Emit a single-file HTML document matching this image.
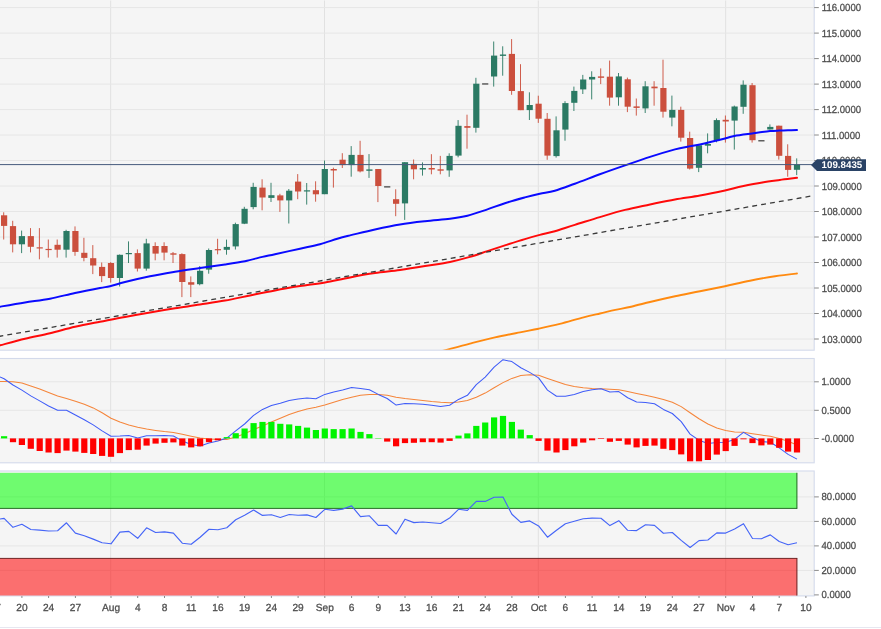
<!DOCTYPE html>
<html lang="en"><head><meta charset="utf-8"><title>Chart</title>
<style>html,body{margin:0;padding:0;background:#fff;}body{width:881px;height:629px;overflow:hidden;}svg{display:block;}</style>
</head><body>
<svg width="881" height="629" viewBox="0 0 881 629" font-family="'Liberation Sans', sans-serif" text-rendering="geometricPrecision">
<rect width="881" height="629" fill="#fff"/>
<defs><clipPath id="c1"><rect x="0" y="0" width="813.7" height="349.7"/></clipPath><clipPath id="c2"><rect x="0" y="359" width="813.7" height="103.3"/></clipPath><clipPath id="c3"><rect x="0" y="471.5" width="813.7" height="123.9"/></clipPath></defs>
<rect x="-2" y="-2" width="816.2" height="352.2" fill="#f5f5f5" stroke="#d3daeb" stroke-width="1.1"/>
<rect x="-2" y="358.5" width="816.2" height="104.3" fill="#f5f5f5" stroke="#d3daeb" stroke-width="1.1"/>
<rect x="-2" y="471.0" width="816.2" height="124.9" fill="#f5f5f5" stroke="#d3daeb" stroke-width="1.1"/>
<line x1="110.7" y1="0.5" x2="110.7" y2="349.7" stroke="#e1e1e1" stroke-width="1"/>
<line x1="324.5" y1="0.5" x2="324.5" y2="349.7" stroke="#e1e1e1" stroke-width="1"/>
<line x1="538.3" y1="0.5" x2="538.3" y2="349.7" stroke="#e1e1e1" stroke-width="1"/>
<line x1="725.7" y1="0.5" x2="725.7" y2="349.7" stroke="#e1e1e1" stroke-width="1"/>
<line x1="110.7" y1="359.0" x2="110.7" y2="462.3" stroke="#e1e1e1" stroke-width="1"/>
<line x1="324.5" y1="359.0" x2="324.5" y2="462.3" stroke="#e1e1e1" stroke-width="1"/>
<line x1="538.3" y1="359.0" x2="538.3" y2="462.3" stroke="#e1e1e1" stroke-width="1"/>
<line x1="725.7" y1="359.0" x2="725.7" y2="462.3" stroke="#e1e1e1" stroke-width="1"/>
<line x1="110.7" y1="471.5" x2="110.7" y2="595.4" stroke="#e1e1e1" stroke-width="1"/>
<line x1="324.5" y1="471.5" x2="324.5" y2="595.4" stroke="#e1e1e1" stroke-width="1"/>
<line x1="538.3" y1="471.5" x2="538.3" y2="595.4" stroke="#e1e1e1" stroke-width="1"/>
<line x1="725.7" y1="471.5" x2="725.7" y2="595.4" stroke="#e1e1e1" stroke-width="1"/>
<line x1="0" y1="339" x2="814.2" y2="339" stroke="#e6e6e6" stroke-width="1"/>
<line x1="814.2" y1="339" x2="818.8000000000001" y2="339" stroke="#8a8a8a" stroke-width="1"/>
<text transform="translate(821.8,342.5) scale(0.93,1)" font-size="10.3" fill="#4f4f4f" stroke="#4f4f4f" stroke-width="0.3" text-anchor="start">103.0000</text>
<line x1="0" y1="313.5" x2="814.2" y2="313.5" stroke="#e6e6e6" stroke-width="1"/>
<line x1="814.2" y1="313.5" x2="818.8000000000001" y2="313.5" stroke="#8a8a8a" stroke-width="1"/>
<text transform="translate(821.8,317) scale(0.93,1)" font-size="10.3" fill="#4f4f4f" stroke="#4f4f4f" stroke-width="0.3" text-anchor="start">104.0000</text>
<line x1="0" y1="288" x2="814.2" y2="288" stroke="#e6e6e6" stroke-width="1"/>
<line x1="814.2" y1="288" x2="818.8000000000001" y2="288" stroke="#8a8a8a" stroke-width="1"/>
<text transform="translate(821.8,291.5) scale(0.93,1)" font-size="10.3" fill="#4f4f4f" stroke="#4f4f4f" stroke-width="0.3" text-anchor="start">105.0000</text>
<line x1="0" y1="262.5" x2="814.2" y2="262.5" stroke="#e6e6e6" stroke-width="1"/>
<line x1="814.2" y1="262.5" x2="818.8000000000001" y2="262.5" stroke="#8a8a8a" stroke-width="1"/>
<text transform="translate(821.8,266) scale(0.93,1)" font-size="10.3" fill="#4f4f4f" stroke="#4f4f4f" stroke-width="0.3" text-anchor="start">106.0000</text>
<line x1="0" y1="237" x2="814.2" y2="237" stroke="#e6e6e6" stroke-width="1"/>
<line x1="814.2" y1="237" x2="818.8000000000001" y2="237" stroke="#8a8a8a" stroke-width="1"/>
<text transform="translate(821.8,240.5) scale(0.93,1)" font-size="10.3" fill="#4f4f4f" stroke="#4f4f4f" stroke-width="0.3" text-anchor="start">107.0000</text>
<line x1="0" y1="211.5" x2="814.2" y2="211.5" stroke="#e6e6e6" stroke-width="1"/>
<line x1="814.2" y1="211.5" x2="818.8000000000001" y2="211.5" stroke="#8a8a8a" stroke-width="1"/>
<text transform="translate(821.8,215) scale(0.93,1)" font-size="10.3" fill="#4f4f4f" stroke="#4f4f4f" stroke-width="0.3" text-anchor="start">108.0000</text>
<line x1="0" y1="186" x2="814.2" y2="186" stroke="#e6e6e6" stroke-width="1"/>
<line x1="814.2" y1="186" x2="818.8000000000001" y2="186" stroke="#8a8a8a" stroke-width="1"/>
<text transform="translate(821.8,189.5) scale(0.93,1)" font-size="10.3" fill="#4f4f4f" stroke="#4f4f4f" stroke-width="0.3" text-anchor="start">109.0000</text>
<line x1="0" y1="160.5" x2="814.2" y2="160.5" stroke="#e6e6e6" stroke-width="1"/>
<line x1="814.2" y1="160.5" x2="818.8000000000001" y2="160.5" stroke="#8a8a8a" stroke-width="1"/>
<text transform="translate(821.8,164) scale(0.93,1)" font-size="10.3" fill="#4f4f4f" stroke="#4f4f4f" stroke-width="0.3" text-anchor="start">110.0000</text>
<line x1="0" y1="135" x2="814.2" y2="135" stroke="#e6e6e6" stroke-width="1"/>
<line x1="814.2" y1="135" x2="818.8000000000001" y2="135" stroke="#8a8a8a" stroke-width="1"/>
<text transform="translate(821.8,138.5) scale(0.93,1)" font-size="10.3" fill="#4f4f4f" stroke="#4f4f4f" stroke-width="0.3" text-anchor="start">111.0000</text>
<line x1="0" y1="109.6" x2="814.2" y2="109.6" stroke="#e6e6e6" stroke-width="1"/>
<line x1="814.2" y1="109.6" x2="818.8000000000001" y2="109.6" stroke="#8a8a8a" stroke-width="1"/>
<text transform="translate(821.8,113.1) scale(0.93,1)" font-size="10.3" fill="#4f4f4f" stroke="#4f4f4f" stroke-width="0.3" text-anchor="start">112.0000</text>
<line x1="0" y1="84.1" x2="814.2" y2="84.1" stroke="#e6e6e6" stroke-width="1"/>
<line x1="814.2" y1="84.1" x2="818.8000000000001" y2="84.1" stroke="#8a8a8a" stroke-width="1"/>
<text transform="translate(821.8,87.6) scale(0.93,1)" font-size="10.3" fill="#4f4f4f" stroke="#4f4f4f" stroke-width="0.3" text-anchor="start">113.0000</text>
<line x1="0" y1="58.6" x2="814.2" y2="58.6" stroke="#e6e6e6" stroke-width="1"/>
<line x1="814.2" y1="58.6" x2="818.8000000000001" y2="58.6" stroke="#8a8a8a" stroke-width="1"/>
<text transform="translate(821.8,62.1) scale(0.93,1)" font-size="10.3" fill="#4f4f4f" stroke="#4f4f4f" stroke-width="0.3" text-anchor="start">114.0000</text>
<line x1="0" y1="33.1" x2="814.2" y2="33.1" stroke="#e6e6e6" stroke-width="1"/>
<line x1="814.2" y1="33.1" x2="818.8000000000001" y2="33.1" stroke="#8a8a8a" stroke-width="1"/>
<text transform="translate(821.8,36.6) scale(0.93,1)" font-size="10.3" fill="#4f4f4f" stroke="#4f4f4f" stroke-width="0.3" text-anchor="start">115.0000</text>
<line x1="0" y1="7.6" x2="814.2" y2="7.6" stroke="#e6e6e6" stroke-width="1"/>
<line x1="814.2" y1="7.6" x2="818.8000000000001" y2="7.6" stroke="#8a8a8a" stroke-width="1"/>
<text transform="translate(821.8,11.1) scale(0.93,1)" font-size="10.3" fill="#4f4f4f" stroke="#4f4f4f" stroke-width="0.3" text-anchor="start">116.0000</text>
<line x1="0" y1="381.8" x2="814.2" y2="381.8" stroke="#e6e6e6" stroke-width="1"/>
<line x1="814.2" y1="381.8" x2="818.8000000000001" y2="381.8" stroke="#8a8a8a" stroke-width="1"/>
<text transform="translate(821.5,385.3) scale(0.93,1)" font-size="10.3" fill="#4f4f4f" stroke="#4f4f4f" stroke-width="0.3" text-anchor="start">1.0000</text>
<line x1="0" y1="410.3" x2="814.2" y2="410.3" stroke="#e6e6e6" stroke-width="1"/>
<line x1="814.2" y1="410.3" x2="818.8000000000001" y2="410.3" stroke="#8a8a8a" stroke-width="1"/>
<text transform="translate(821.5,413.8) scale(0.93,1)" font-size="10.3" fill="#4f4f4f" stroke="#4f4f4f" stroke-width="0.3" text-anchor="start">0.5000</text>
<line x1="0" y1="438.5" x2="814.2" y2="438.5" stroke="#e6e6e6" stroke-width="1"/>
<line x1="814.2" y1="438.5" x2="818.8000000000001" y2="438.5" stroke="#8a8a8a" stroke-width="1"/>
<text transform="translate(821.5,442) scale(0.93,1)" font-size="10.3" fill="#4f4f4f" stroke="#4f4f4f" stroke-width="0.3" text-anchor="start">-0.0000</text>
<line x1="814.2" y1="594.9" x2="818.8000000000001" y2="594.9" stroke="#8a8a8a" stroke-width="1"/>
<text transform="translate(821.5,598.4) scale(0.93,1)" font-size="10.3" fill="#4f4f4f" stroke="#4f4f4f" stroke-width="0.3" text-anchor="start">0.0000</text>
<line x1="0" y1="570.4" x2="814.2" y2="570.4" stroke="#e6e6e6" stroke-width="1"/>
<line x1="814.2" y1="570.4" x2="818.8000000000001" y2="570.4" stroke="#8a8a8a" stroke-width="1"/>
<text transform="translate(821.5,573.9) scale(0.93,1)" font-size="10.3" fill="#4f4f4f" stroke="#4f4f4f" stroke-width="0.3" text-anchor="start">20.0000</text>
<line x1="0" y1="545.9" x2="814.2" y2="545.9" stroke="#e6e6e6" stroke-width="1"/>
<line x1="814.2" y1="545.9" x2="818.8000000000001" y2="545.9" stroke="#8a8a8a" stroke-width="1"/>
<text transform="translate(821.5,549.4) scale(0.93,1)" font-size="10.3" fill="#4f4f4f" stroke="#4f4f4f" stroke-width="0.3" text-anchor="start">40.0000</text>
<line x1="0" y1="521.4" x2="814.2" y2="521.4" stroke="#e6e6e6" stroke-width="1"/>
<line x1="814.2" y1="521.4" x2="818.8000000000001" y2="521.4" stroke="#8a8a8a" stroke-width="1"/>
<text transform="translate(821.5,524.9) scale(0.93,1)" font-size="10.3" fill="#4f4f4f" stroke="#4f4f4f" stroke-width="0.3" text-anchor="start">60.0000</text>
<line x1="0" y1="496.9" x2="814.2" y2="496.9" stroke="#e6e6e6" stroke-width="1"/>
<line x1="814.2" y1="496.9" x2="818.8000000000001" y2="496.9" stroke="#8a8a8a" stroke-width="1"/>
<text transform="translate(821.5,500.4) scale(0.93,1)" font-size="10.3" fill="#4f4f4f" stroke="#4f4f4f" stroke-width="0.3" text-anchor="start">80.0000</text>
<g clip-path="url(#c1)">
<line x1="3.7" y1="212.3" x2="3.7" y2="239.5" stroke="#cb4f3d" stroke-width="1" stroke-opacity="0.92"/>
<rect x="1" y="215.3" width="6.2" height="10.6" fill="#cb4f3d"/>
<line x1="12.7" y1="220.8" x2="12.7" y2="252.4" stroke="#cb4f3d" stroke-width="1" stroke-opacity="0.92"/>
<rect x="9.9" y="226.1" width="6.2" height="18.2" fill="#cb4f3d"/>
<line x1="21.6" y1="230.6" x2="21.6" y2="253.1" stroke="#2b7a64" stroke-width="1" stroke-opacity="0.92"/>
<rect x="18.8" y="236.1" width="6.2" height="8.2" fill="#2b7a64"/>
<line x1="30.5" y1="228.1" x2="30.5" y2="252.4" stroke="#cb4f3d" stroke-width="1" stroke-opacity="0.92"/>
<rect x="27.7" y="236.1" width="6.2" height="10.7" fill="#cb4f3d"/>
<line x1="39.4" y1="228.1" x2="39.4" y2="259.3" stroke="#cb4f3d" stroke-width="1" stroke-opacity="0.92"/>
<rect x="36.6" y="247.3" width="6.2" height="1.2" fill="#cb4f3d"/>
<line x1="48.3" y1="239.5" x2="48.3" y2="257.6" stroke="#cb4f3d" stroke-width="1" stroke-opacity="0.92"/>
<rect x="45.5" y="248.9" width="6.2" height="1.2" fill="#cb4f3d"/>
<line x1="57.2" y1="239.5" x2="57.2" y2="257.6" stroke="#cb4f3d" stroke-width="1" stroke-opacity="0.92"/>
<rect x="54.5" y="244.8" width="6.2" height="4.9" fill="#cb4f3d"/>
<line x1="66.1" y1="229.8" x2="66.1" y2="257.6" stroke="#2b7a64" stroke-width="1" stroke-opacity="0.92"/>
<rect x="63.4" y="231" width="6.2" height="18.7" fill="#2b7a64"/>
<line x1="75" y1="226.4" x2="75" y2="255.8" stroke="#cb4f3d" stroke-width="1" stroke-opacity="0.92"/>
<rect x="72.3" y="231" width="6.2" height="20.9" fill="#cb4f3d"/>
<line x1="83.9" y1="237.8" x2="83.9" y2="261.3" stroke="#cb4f3d" stroke-width="1" stroke-opacity="0.92"/>
<rect x="81.2" y="252.8" width="6.2" height="5.1" fill="#cb4f3d"/>
<line x1="92.8" y1="245.1" x2="92.8" y2="274.1" stroke="#cb4f3d" stroke-width="1" stroke-opacity="0.92"/>
<rect x="90.1" y="258.2" width="6.2" height="7.3" fill="#cb4f3d"/>
<line x1="101.7" y1="262.5" x2="101.7" y2="282.1" stroke="#cb4f3d" stroke-width="1" stroke-opacity="0.92"/>
<rect x="99" y="266.9" width="6.2" height="9.2" fill="#cb4f3d"/>
<line x1="110.7" y1="262.1" x2="110.7" y2="282.6" stroke="#cb4f3d" stroke-width="1" stroke-opacity="0.92"/>
<rect x="107.9" y="263" width="6.2" height="15" fill="#cb4f3d"/>
<line x1="119.6" y1="254.5" x2="119.6" y2="286.5" stroke="#2b7a64" stroke-width="1" stroke-opacity="0.92"/>
<rect x="116.8" y="254.8" width="6.2" height="23.2" fill="#2b7a64"/>
<line x1="128.5" y1="241.4" x2="128.5" y2="263" stroke="#2b7a64" stroke-width="1" stroke-opacity="0.92"/>
<rect x="125.7" y="253" width="6.2" height="1.2" fill="#2b7a64"/>
<line x1="137.4" y1="249.4" x2="137.4" y2="271.5" stroke="#cb4f3d" stroke-width="1" stroke-opacity="0.92"/>
<rect x="134.6" y="253.1" width="6.2" height="15.5" fill="#cb4f3d"/>
<line x1="146.3" y1="238.8" x2="146.3" y2="270.7" stroke="#2b7a64" stroke-width="1" stroke-opacity="0.92"/>
<rect x="143.5" y="243.4" width="6.2" height="25.2" fill="#2b7a64"/>
<line x1="155.2" y1="242.3" x2="155.2" y2="260.3" stroke="#cb4f3d" stroke-width="1" stroke-opacity="0.92"/>
<rect x="152.5" y="246" width="6.2" height="7.6" fill="#cb4f3d"/>
<line x1="164.1" y1="242.3" x2="164.1" y2="260.3" stroke="#cb4f3d" stroke-width="1" stroke-opacity="0.92"/>
<rect x="161.4" y="246" width="6.2" height="6.6" fill="#cb4f3d"/>
<line x1="173" y1="252" x2="173" y2="263" stroke="#cb4f3d" stroke-width="1" stroke-opacity="0.92"/>
<rect x="170.3" y="253.3" width="6.2" height="1.4" fill="#cb4f3d"/>
<line x1="181.9" y1="253.3" x2="181.9" y2="297.1" stroke="#cb4f3d" stroke-width="1" stroke-opacity="0.92"/>
<rect x="179.2" y="254.1" width="6.2" height="27.9" fill="#cb4f3d"/>
<line x1="190.8" y1="276.4" x2="190.8" y2="297.1" stroke="#cb4f3d" stroke-width="1" stroke-opacity="0.92"/>
<rect x="188.1" y="282.2" width="6.2" height="2.5" fill="#cb4f3d"/>
<line x1="199.7" y1="266.1" x2="199.7" y2="285.3" stroke="#2b7a64" stroke-width="1" stroke-opacity="0.92"/>
<rect x="197" y="270.8" width="6.2" height="13.4" fill="#2b7a64"/>
<line x1="208.7" y1="248.5" x2="208.7" y2="273.7" stroke="#2b7a64" stroke-width="1" stroke-opacity="0.92"/>
<rect x="205.9" y="250" width="6.2" height="19.6" fill="#2b7a64"/>
<line x1="217.6" y1="238.8" x2="217.6" y2="254.3" stroke="#cb4f3d" stroke-width="1" stroke-opacity="0.92"/>
<rect x="214.8" y="249.1" width="6.2" height="1.2" fill="#cb4f3d"/>
<line x1="226.5" y1="239.6" x2="226.5" y2="254.7" stroke="#2b7a64" stroke-width="1" stroke-opacity="0.92"/>
<rect x="223.7" y="246.9" width="6.2" height="2.9" fill="#2b7a64"/>
<line x1="235.4" y1="222.7" x2="235.4" y2="249.5" stroke="#2b7a64" stroke-width="1" stroke-opacity="0.92"/>
<rect x="232.6" y="224.1" width="6.2" height="22.3" fill="#2b7a64"/>
<line x1="244.3" y1="206.8" x2="244.3" y2="224.1" stroke="#2b7a64" stroke-width="1" stroke-opacity="0.92"/>
<rect x="241.5" y="208.8" width="6.2" height="14.9" fill="#2b7a64"/>
<line x1="253.2" y1="182.8" x2="253.2" y2="209.3" stroke="#2b7a64" stroke-width="1" stroke-opacity="0.92"/>
<rect x="250.5" y="186.9" width="6.2" height="20.2" fill="#2b7a64"/>
<line x1="262.1" y1="179.3" x2="262.1" y2="210.3" stroke="#cb4f3d" stroke-width="1" stroke-opacity="0.92"/>
<rect x="259.4" y="187.6" width="6.2" height="9.9" fill="#cb4f3d"/>
<line x1="271" y1="182.8" x2="271" y2="202" stroke="#2b7a64" stroke-width="1" stroke-opacity="0.92"/>
<rect x="268.3" y="195.2" width="6.2" height="2.7" fill="#2b7a64"/>
<line x1="279.9" y1="193.8" x2="279.9" y2="211.9" stroke="#cb4f3d" stroke-width="1" stroke-opacity="0.92"/>
<rect x="277.2" y="195.4" width="6.2" height="5" fill="#cb4f3d"/>
<line x1="288.8" y1="189" x2="288.8" y2="223.5" stroke="#2b7a64" stroke-width="1" stroke-opacity="0.92"/>
<rect x="286.1" y="190.7" width="6.2" height="9.7" fill="#2b7a64"/>
<line x1="297.7" y1="174.1" x2="297.7" y2="199.2" stroke="#cb4f3d" stroke-width="1" stroke-opacity="0.92"/>
<rect x="295" y="181.6" width="6.2" height="9.9" fill="#cb4f3d"/>
<line x1="306.7" y1="183" x2="306.7" y2="204.6" stroke="#2b7a64" stroke-width="1" stroke-opacity="0.92"/>
<rect x="303.9" y="190.3" width="6.2" height="1.2" fill="#2b7a64"/>
<line x1="315.6" y1="181.3" x2="315.6" y2="201.7" stroke="#cb4f3d" stroke-width="1" stroke-opacity="0.92"/>
<rect x="312.8" y="190.2" width="6.2" height="4.1" fill="#cb4f3d"/>
<line x1="324.5" y1="160.5" x2="324.5" y2="194.2" stroke="#2b7a64" stroke-width="1" stroke-opacity="0.92"/>
<rect x="321.7" y="169" width="6.2" height="25.2" fill="#2b7a64"/>
<line x1="333.4" y1="167.7" x2="333.4" y2="187.6" stroke="#cb4f3d" stroke-width="1" stroke-opacity="0.92"/>
<rect x="330.6" y="169" width="6.2" height="1.5" fill="#cb4f3d"/>
<line x1="342.3" y1="153.2" x2="342.3" y2="168" stroke="#cb4f3d" stroke-width="1" stroke-opacity="0.92"/>
<rect x="339.5" y="159.7" width="6.2" height="5.4" fill="#cb4f3d"/>
<line x1="351.2" y1="146.1" x2="351.2" y2="176.7" stroke="#2b7a64" stroke-width="1" stroke-opacity="0.92"/>
<rect x="348.5" y="154.9" width="6.2" height="10.2" fill="#2b7a64"/>
<line x1="360.1" y1="140.8" x2="360.1" y2="172.4" stroke="#cb4f3d" stroke-width="1" stroke-opacity="0.92"/>
<rect x="357.4" y="154.9" width="6.2" height="16.5" fill="#cb4f3d"/>
<line x1="369" y1="154.1" x2="369" y2="177.9" stroke="#2b7a64" stroke-width="1" stroke-opacity="0.92"/>
<rect x="366.3" y="169.4" width="6.2" height="1.4" fill="#2b7a64"/>
<line x1="377.9" y1="169" x2="377.9" y2="202.1" stroke="#cb4f3d" stroke-width="1" stroke-opacity="0.92"/>
<rect x="375.2" y="169" width="6.2" height="17" fill="#cb4f3d"/>
<rect x="384.1" y="186.1" width="6.2" height="1.5" fill="#5e5e5e"/>
<line x1="395.7" y1="189.3" x2="395.7" y2="216.2" stroke="#cb4f3d" stroke-width="1" stroke-opacity="0.92"/>
<rect x="393" y="199.2" width="6.2" height="4.6" fill="#cb4f3d"/>
<line x1="404.7" y1="162.2" x2="404.7" y2="219.9" stroke="#2b7a64" stroke-width="1" stroke-opacity="0.92"/>
<rect x="401.9" y="162.2" width="6.2" height="41.2" fill="#2b7a64"/>
<line x1="413.6" y1="159.5" x2="413.6" y2="179.3" stroke="#cb4f3d" stroke-width="1" stroke-opacity="0.92"/>
<rect x="410.8" y="163.9" width="6.2" height="5.4" fill="#cb4f3d"/>
<line x1="422.5" y1="162.4" x2="422.5" y2="175.6" stroke="#2b7a64" stroke-width="1" stroke-opacity="0.92"/>
<rect x="419.7" y="168" width="6.2" height="1.5" fill="#2b7a64"/>
<line x1="431.4" y1="154.2" x2="431.4" y2="174.3" stroke="#cb4f3d" stroke-width="1" stroke-opacity="0.92"/>
<rect x="428.6" y="168" width="6.2" height="1.5" fill="#cb4f3d"/>
<line x1="440.3" y1="155.9" x2="440.3" y2="174.3" stroke="#cb4f3d" stroke-width="1" stroke-opacity="0.92"/>
<rect x="437.5" y="169.3" width="6.2" height="1.4" fill="#cb4f3d"/>
<line x1="449.2" y1="153.3" x2="449.2" y2="176.8" stroke="#2b7a64" stroke-width="1" stroke-opacity="0.92"/>
<rect x="446.5" y="155.9" width="6.2" height="14.5" fill="#2b7a64"/>
<line x1="458.1" y1="120.1" x2="458.1" y2="157.3" stroke="#2b7a64" stroke-width="1" stroke-opacity="0.92"/>
<rect x="455.4" y="125.8" width="6.2" height="29.8" fill="#2b7a64"/>
<line x1="467" y1="114.7" x2="467" y2="148.7" stroke="#cb4f3d" stroke-width="1" stroke-opacity="0.92"/>
<rect x="464.3" y="126.1" width="6.2" height="1.7" fill="#cb4f3d"/>
<line x1="475.9" y1="77.8" x2="475.9" y2="132.6" stroke="#2b7a64" stroke-width="1" stroke-opacity="0.92"/>
<rect x="473.2" y="83.7" width="6.2" height="44.1" fill="#2b7a64"/>
<rect x="482.1" y="83.2" width="6.2" height="1.5" fill="#5e5e5e"/>
<line x1="493.7" y1="41.5" x2="493.7" y2="86.6" stroke="#2b7a64" stroke-width="1" stroke-opacity="0.92"/>
<rect x="491" y="55.6" width="6.2" height="20.9" fill="#2b7a64"/>
<line x1="502.7" y1="46.3" x2="502.7" y2="75.7" stroke="#2b7a64" stroke-width="1" stroke-opacity="0.92"/>
<rect x="499.9" y="54.5" width="6.2" height="1.4" fill="#2b7a64"/>
<line x1="511.6" y1="39.1" x2="511.6" y2="94.8" stroke="#cb4f3d" stroke-width="1" stroke-opacity="0.92"/>
<rect x="508.8" y="53.9" width="6.2" height="37.1" fill="#cb4f3d"/>
<line x1="520.5" y1="64.2" x2="520.5" y2="110.1" stroke="#cb4f3d" stroke-width="1" stroke-opacity="0.92"/>
<rect x="517.7" y="91.1" width="6.2" height="19.1" fill="#cb4f3d"/>
<line x1="529.4" y1="92.3" x2="529.4" y2="120" stroke="#2b7a64" stroke-width="1" stroke-opacity="0.92"/>
<rect x="526.6" y="105" width="6.2" height="5.1" fill="#2b7a64"/>
<line x1="538.3" y1="95.7" x2="538.3" y2="122.9" stroke="#cb4f3d" stroke-width="1" stroke-opacity="0.92"/>
<rect x="535.5" y="103.7" width="6.2" height="15" fill="#cb4f3d"/>
<line x1="547.2" y1="113" x2="547.2" y2="159.8" stroke="#cb4f3d" stroke-width="1" stroke-opacity="0.92"/>
<rect x="544.4" y="118.8" width="6.2" height="36.8" fill="#cb4f3d"/>
<line x1="556.1" y1="116.4" x2="556.1" y2="157.6" stroke="#2b7a64" stroke-width="1" stroke-opacity="0.92"/>
<rect x="553.4" y="130.3" width="6.2" height="25.8" fill="#2b7a64"/>
<line x1="565" y1="101.2" x2="565" y2="140.7" stroke="#2b7a64" stroke-width="1" stroke-opacity="0.92"/>
<rect x="562.3" y="103.1" width="6.2" height="26.5" fill="#2b7a64"/>
<line x1="573.9" y1="86.6" x2="573.9" y2="111" stroke="#2b7a64" stroke-width="1" stroke-opacity="0.92"/>
<rect x="571.2" y="90.9" width="6.2" height="11.9" fill="#2b7a64"/>
<line x1="582.8" y1="74.9" x2="582.8" y2="94" stroke="#2b7a64" stroke-width="1" stroke-opacity="0.92"/>
<rect x="580.1" y="79.5" width="6.2" height="9.9" fill="#2b7a64"/>
<line x1="591.7" y1="71.3" x2="591.7" y2="99.4" stroke="#2b7a64" stroke-width="1" stroke-opacity="0.92"/>
<rect x="589" y="76.9" width="6.2" height="2.6" fill="#2b7a64"/>
<line x1="600.7" y1="68.4" x2="600.7" y2="84.1" stroke="#cb4f3d" stroke-width="1" stroke-opacity="0.92"/>
<rect x="597.9" y="76.4" width="6.2" height="1.4" fill="#cb4f3d"/>
<line x1="609.6" y1="60.6" x2="609.6" y2="105.7" stroke="#cb4f3d" stroke-width="1" stroke-opacity="0.92"/>
<rect x="606.8" y="76.7" width="6.2" height="20.9" fill="#cb4f3d"/>
<line x1="618.5" y1="73" x2="618.5" y2="105.7" stroke="#2b7a64" stroke-width="1" stroke-opacity="0.92"/>
<rect x="615.7" y="76.4" width="6.2" height="20.9" fill="#2b7a64"/>
<line x1="627.4" y1="77.6" x2="627.4" y2="112.1" stroke="#cb4f3d" stroke-width="1" stroke-opacity="0.92"/>
<rect x="624.6" y="79.3" width="6.2" height="27.4" fill="#cb4f3d"/>
<line x1="636.3" y1="98.5" x2="636.3" y2="115.6" stroke="#cb4f3d" stroke-width="1" stroke-opacity="0.92"/>
<rect x="633.5" y="106.4" width="6.2" height="1.5" fill="#cb4f3d"/>
<line x1="645.2" y1="81.2" x2="645.2" y2="113" stroke="#2b7a64" stroke-width="1" stroke-opacity="0.92"/>
<rect x="642.4" y="86.3" width="6.2" height="22.1" fill="#2b7a64"/>
<line x1="654.1" y1="81.2" x2="654.1" y2="105.7" stroke="#cb4f3d" stroke-width="1" stroke-opacity="0.92"/>
<rect x="651.4" y="86.6" width="6.2" height="1.7" fill="#cb4f3d"/>
<line x1="663" y1="59.7" x2="663" y2="117.6" stroke="#cb4f3d" stroke-width="1" stroke-opacity="0.92"/>
<rect x="660.3" y="88" width="6.2" height="23.7" fill="#cb4f3d"/>
<line x1="671.9" y1="95.6" x2="671.9" y2="126.3" stroke="#2b7a64" stroke-width="1" stroke-opacity="0.92"/>
<rect x="669.2" y="109.9" width="6.2" height="7.7" fill="#2b7a64"/>
<line x1="680.8" y1="106.7" x2="680.8" y2="141.6" stroke="#cb4f3d" stroke-width="1" stroke-opacity="0.92"/>
<rect x="678.1" y="109.9" width="6.2" height="27.8" fill="#cb4f3d"/>
<line x1="689.7" y1="131.7" x2="689.7" y2="169.5" stroke="#cb4f3d" stroke-width="1" stroke-opacity="0.92"/>
<rect x="687" y="138" width="6.2" height="30.6" fill="#cb4f3d"/>
<line x1="698.7" y1="145.3" x2="698.7" y2="172.1" stroke="#2b7a64" stroke-width="1" stroke-opacity="0.92"/>
<rect x="695.9" y="145.3" width="6.2" height="22.5" fill="#2b7a64"/>
<line x1="707.6" y1="133.4" x2="707.6" y2="153.3" stroke="#2b7a64" stroke-width="1" stroke-opacity="0.92"/>
<rect x="704.8" y="144" width="6.2" height="1.7" fill="#2b7a64"/>
<line x1="716.5" y1="118.4" x2="716.5" y2="142.3" stroke="#2b7a64" stroke-width="1" stroke-opacity="0.92"/>
<rect x="713.7" y="120.1" width="6.2" height="20.4" fill="#2b7a64"/>
<line x1="725.4" y1="115.5" x2="725.4" y2="142.6" stroke="#cb4f3d" stroke-width="1" stroke-opacity="0.92"/>
<rect x="722.6" y="119.8" width="6.2" height="1.7" fill="#cb4f3d"/>
<line x1="734.3" y1="105.6" x2="734.3" y2="149.6" stroke="#2b7a64" stroke-width="1" stroke-opacity="0.92"/>
<rect x="731.5" y="106.5" width="6.2" height="14.1" fill="#2b7a64"/>
<line x1="743.2" y1="80.4" x2="743.2" y2="113.8" stroke="#2b7a64" stroke-width="1" stroke-opacity="0.92"/>
<rect x="740.4" y="84.7" width="6.2" height="22.1" fill="#2b7a64"/>
<line x1="752.1" y1="83" x2="752.1" y2="142.6" stroke="#cb4f3d" stroke-width="1" stroke-opacity="0.92"/>
<rect x="749.4" y="85.2" width="6.2" height="55" fill="#cb4f3d"/>
<rect x="758.3" y="140" width="6.2" height="1.5" fill="#5e5e5e"/>
<line x1="769.9" y1="124.4" x2="769.9" y2="129.5" stroke="#2b7a64" stroke-width="1" stroke-opacity="0.92"/>
<rect x="767.2" y="126.9" width="6.2" height="2.6" fill="#2b7a64"/>
<line x1="778.8" y1="125.7" x2="778.8" y2="159.6" stroke="#cb4f3d" stroke-width="1" stroke-opacity="0.92"/>
<rect x="776.1" y="125.7" width="6.2" height="30.1" fill="#cb4f3d"/>
<line x1="787.7" y1="144.3" x2="787.7" y2="176.7" stroke="#cb4f3d" stroke-width="1" stroke-opacity="0.92"/>
<rect x="785" y="155.9" width="6.2" height="14" fill="#cb4f3d"/>
<line x1="796.7" y1="158.4" x2="796.7" y2="175.1" stroke="#2b7a64" stroke-width="1" stroke-opacity="0.92"/>
<rect x="793.9" y="164.4" width="6.2" height="5.4" fill="#2b7a64"/>
<path d="M425,355.5C428.1,354.7 436.2,352.6 443.7,350.6C451.2,348.6 461.4,345.8 470,343.6C478.6,341.4 486.7,339.3 495,337.4C503.3,335.5 512.7,333.8 520,332.4C527.3,330.9 532,330.1 538.6,328.7C545.2,327.3 552.3,325.8 559.8,323.9C567.3,322 576.9,319 583.6,317.3C590.3,315.6 594.7,314.7 600,313.5C605.3,312.3 610.1,311 615.3,309.9C620.5,308.8 625.4,308 631.2,306.7C637,305.4 642.7,303.8 650,302C657.3,300.2 666.7,298 675,296.2C683.3,294.4 691.7,292.9 700,291.2C708.3,289.5 716.7,287.9 725,286.2C733.3,284.4 741.7,282.4 750,280.7C758.3,279 767.2,277.4 775,276.2C782.8,275 793.3,273.9 797,273.5" fill="none" stroke="#ff8a10" stroke-width="1.9" stroke-linecap="round"/>
<path d="M-2,307.1C-1.7,307 -4.5,307.5 0,306.7C4.5,305.9 16.7,303.7 25,302.4C33.3,301.1 41.7,300.3 50,298.7C58.3,297.1 66.7,294.8 75,293C83.3,291.2 94.2,289.1 100,288C105.8,286.9 105.8,287.2 110,286.2C114.2,285.2 118.3,283.7 125,282C131.7,280.3 141.7,277.9 150,276.2C158.3,274.5 166.7,273.1 175,271.7C183.3,270.3 191.7,269.2 200,268C208.3,266.8 217.5,265.5 225,264.4C232.5,263.3 238.8,262.4 245,261.2C251.2,259.9 257.4,258.1 262.4,256.9C267.4,255.7 268.7,255.6 275,254.2C281.3,252.8 292.5,250.4 300,248.7C307.5,247 313.8,245.9 320,244.2C326.2,242.5 332.3,240.2 337.3,238.7C342.3,237.2 343.7,236.9 350,235.4C356.3,233.9 366.7,231.2 375,229.4C383.3,227.6 391.7,225.8 400,224.4C408.3,223 416.7,222.1 425,221.2C433.3,220.2 442.9,219.6 450,218.7C457.1,217.8 461.2,217.2 467.4,215.7C473.6,214.1 481.1,211.5 487.4,209.4C493.6,207.3 498.6,205.2 504.9,203.2C511.1,201.2 519.1,199 524.9,197.4C530.7,195.8 534.8,194.8 539.8,193.7C544.8,192.6 549,192.4 554.8,190.7C560.6,189 567.3,186.4 574.8,183.7C582.3,181 591.4,177.4 599.8,174.3C608.2,171.2 616.6,168.3 625,165.4C633.4,162.5 641.7,159.6 650,156.9C658.3,154.2 668.8,151.1 675,149.4C681.2,147.7 683.2,147.5 687.4,146.7C691.6,145.9 693.7,145.8 700,144.4C706.3,143 719.3,139.9 725,138.5C730.7,137.1 729.8,136.8 734.3,135.9C738.8,135.1 746.2,134.2 752.2,133.4C758.2,132.6 765.5,131.6 770,131.1C774.5,130.6 776.2,130.7 779.2,130.6C782.2,130.5 785,130.4 788,130.3C791,130.2 795.5,130.1 797,130" fill="none" stroke="#0a0aff" stroke-width="2" stroke-linecap="round"/>
<path d="M-2,346C-1.7,345.9 -4.5,346.6 0,345.4C4.5,344.2 16.7,340.7 25,338.7C33.3,336.7 41.7,335.2 50,333.2C58.3,331.2 66.7,328.6 75,326.7C83.3,324.8 91.7,323.3 100,321.7C108.3,320.1 116.7,318.4 125,316.9C133.3,315.3 141.7,313.8 150,312.4C158.3,310.9 166.7,309.5 175,308.2C183.3,306.9 191.7,305.9 200,304.6C208.3,303.3 216.7,302.1 225,300.6C233.3,299.1 241.7,297.1 250,295.4C258.3,293.7 266.7,291.9 275,290.4C283.3,288.8 291.7,287.4 300,286.1C308.3,284.8 316.7,283.8 325,282.4C333.3,280.9 341.7,278.9 350,277.4C358.3,275.8 366.7,274.3 375,273.1C383.3,271.9 391.7,271.3 400,270.1C408.3,268.9 416.7,267.5 425,266.1C433.3,264.7 442.5,263.4 450,261.9C457.5,260.4 463.7,258.7 469.9,256.9C476.1,255.1 481.6,253 487.4,251.1C493.2,249.2 498.6,247.4 504.9,245.4C511.1,243.4 519.1,240.8 524.9,239.1C530.7,237.3 534.8,236.2 539.8,234.9C544.8,233.6 549,232.9 554.8,231.2C560.6,229.5 567.3,227.2 574.8,224.9C582.3,222.6 591.4,219.6 599.8,217.1C608.2,214.6 616.6,212 625,209.9C633.4,207.8 641.7,206.2 650,204.4C658.3,202.7 666.7,200.9 675,199.4C683.3,197.9 691.7,196.9 700,195.4C708.3,193.9 718,191.9 725,190.4C732,188.9 736.1,187.5 742.3,186.2C748.5,184.9 756,183.4 762.3,182.4C768.5,181.4 774,180.7 779.8,179.9C785.6,179.1 794.1,178.2 797,177.8" fill="none" stroke="#ff0a0a" stroke-width="2" stroke-linecap="round"/>
<line x1="-1.57" y1="336.5" x2="810.4" y2="196.2" stroke="#3a3a3a" stroke-width="1.3" stroke-dasharray="4.9 4.1"/>
</g>
<line x1="0" y1="164.6" x2="812" y2="164.6" stroke="#465b7d" stroke-width="1"/>
<polygon points="811,164.9 817,159.2 866,159.2 866,170.9 817,170.9" fill="#2a4366"/>
<text x="821.6" y="168.1" font-size="9.75" font-weight="bold" fill="#fff">109.8435</text>
<g clip-path="url(#c2)">
<path d="M-1,381.6L0,381.6L4.1,381.5L13,381.8L21.9,383.1L30.8,385.9L39.7,389.1L48.6,392.5L57.6,395.9L66.5,398.5L75.4,401.3L84.3,404.3L93.2,407.9L102.1,412.8L111,418.2L119.9,422.1L128.8,424.9L137.7,427.2L146.6,429.1L155.6,430.4L164.5,431.5L173.4,432.4L182.3,434.3L191.2,436.2L200.1,438.1L209,439L217.9,439.6L226.8,439.4L235.7,437.1L244.6,433.8L253.6,429.6L262.5,425.9L271.4,422.1L280.3,418.2L289.2,414.6L298.1,411.6L307,409L315.9,407.2L324.8,405.1L333.7,402.3L342.6,399.6L351.6,397.2L360.5,395.3L369.4,394.4L378.3,394.4L387.2,395.3L396.1,397.2L405,398.5L413.9,399.4L422.8,400.4L431.7,401.5L440.6,402.3L449.6,402.8L458.5,401.9L467.4,400.6L476.3,397.2L485.2,393.1L494.1,387.8L503,382.6L511.9,378.4L520.8,375.6L529.7,374.7L538.6,375.3L547.5,378.4L556.5,381.6L565.4,384.6L574.3,386.5L583.2,387.8L592.1,388.4L601,388.8L609.9,389.3L618.8,389.7L627.7,391.6L636.6,393.4L645.5,395.3L654.5,397.2L663.4,399.4L672.3,402.3L681.2,406.6L690.1,412.8L699,418.8L707.9,424L716.8,428.1L725.7,430.6L734.6,431.9L743.5,432.3L752.5,433.8L761.4,435.1L770.3,436.2L779.2,438.4L788.1,441.3L797,445" fill="none" stroke="#f5853a" stroke-width="1.05" stroke-linejoin="round"/>
<path d="M-1,376.3L0,376.9L4.1,378.7L13,385L21.9,390.1L30.8,395.9L39.7,400.9L48.6,406L57.6,410.3L66.5,410.3L75.4,415L84.3,419.7L93.2,424.9L102.1,430.9L111,436.2L119.9,436L128.8,435.6L137.7,438.1L146.6,435.8L155.6,435.8L164.5,435.6L173.4,436L182.3,440.9L191.2,444.6L200.1,445.9L209,443.1L217.9,440.9L226.8,438.1L235.7,430.9L244.6,424L253.6,415.4L262.5,409.4L271.4,405.6L280.3,403.2L289.2,400.4L298.1,399.1L307,398.1L315.9,398.7L324.8,394.4L333.7,391.9L342.6,390.1L351.6,387.4L360.5,388.4L369.4,389.7L378.3,394.4L387.2,398.5L396.1,405.1L405,403.4L413.9,403.8L422.8,404.3L431.7,405.3L440.6,406.6L449.6,405.3L458.5,399.4L467.4,395.3L476.3,384.6L485.2,377.1L494.1,367.2L503,359.7L511.9,361.6L520.8,367.8L529.7,372.4L538.6,377.9L547.5,390.1L556.5,396.3L565.4,396.3L574.3,394.4L583.2,391.6L592.1,389.7L601,388.8L609.9,392.1L618.8,391.6L627.7,397.8L636.6,401.9L645.5,402.4L654.5,403.8L663.4,409.4L672.3,413.5L681.2,421.6L690.1,434.1L699,440.3L707.9,443.5L716.8,442.6L725.7,442.2L734.6,439.4L743.5,432.4L752.5,437.5L761.4,441.6L770.3,442.2L779.2,447.8L788.1,454.4L797,459.1" fill="none" stroke="#3f5cf8" stroke-width="1.05" stroke-linejoin="round"/>
<rect x="1" y="436.2" width="6.2" height="2.2" fill="#00f400"/>
<rect x="9.9" y="438.4" width="6.2" height="3.8" fill="#ff0000"/>
<rect x="18.8" y="438.4" width="6.2" height="6.6" fill="#ff0000"/>
<rect x="27.7" y="438.4" width="6.2" height="10.4" fill="#ff0000"/>
<rect x="36.6" y="438.4" width="6.2" height="12.6" fill="#ff0000"/>
<rect x="45.5" y="438.4" width="6.2" height="14.1" fill="#ff0000"/>
<rect x="54.5" y="438.4" width="6.2" height="14.7" fill="#ff0000"/>
<rect x="63.4" y="438.4" width="6.2" height="12.2" fill="#ff0000"/>
<rect x="72.3" y="438.4" width="6.2" height="13.2" fill="#ff0000"/>
<rect x="81.2" y="438.4" width="6.2" height="14.5" fill="#ff0000"/>
<rect x="90.1" y="438.4" width="6.2" height="15.6" fill="#ff0000"/>
<rect x="99" y="438.4" width="6.2" height="17.5" fill="#ff0000"/>
<rect x="107.9" y="438.4" width="6.2" height="18.4" fill="#ff0000"/>
<rect x="116.8" y="438.4" width="6.2" height="14.7" fill="#ff0000"/>
<rect x="125.7" y="438.4" width="6.2" height="11.7" fill="#ff0000"/>
<rect x="134.6" y="438.4" width="6.2" height="11.3" fill="#ff0000"/>
<rect x="143.5" y="438.4" width="6.2" height="7.2" fill="#ff0000"/>
<rect x="152.5" y="438.4" width="6.2" height="5.2" fill="#ff0000"/>
<rect x="161.4" y="438.4" width="6.2" height="4.4" fill="#ff0000"/>
<rect x="170.3" y="438.4" width="6.2" height="4" fill="#ff0000"/>
<rect x="179.2" y="438.4" width="6.2" height="7.2" fill="#ff0000"/>
<rect x="188.1" y="438.4" width="6.2" height="9" fill="#ff0000"/>
<rect x="197" y="438.4" width="6.2" height="7.9" fill="#ff0000"/>
<rect x="205.9" y="438.4" width="6.2" height="3.8" fill="#ff0000"/>
<rect x="214.8" y="438.4" width="6.2" height="1.9" fill="#ff0000"/>
<rect x="223.7" y="437.1" width="6.2" height="1.3" fill="#00f400"/>
<rect x="232.6" y="433.2" width="6.2" height="5.2" fill="#00f400"/>
<rect x="241.5" y="428.5" width="6.2" height="9.9" fill="#00f400"/>
<rect x="250.5" y="423.1" width="6.2" height="15.3" fill="#00f400"/>
<rect x="259.4" y="421.9" width="6.2" height="16.5" fill="#00f400"/>
<rect x="268.3" y="421.9" width="6.2" height="16.5" fill="#00f400"/>
<rect x="277.2" y="423.8" width="6.2" height="14.6" fill="#00f400"/>
<rect x="286.1" y="424.4" width="6.2" height="14" fill="#00f400"/>
<rect x="295" y="425.9" width="6.2" height="12.5" fill="#00f400"/>
<rect x="303.9" y="427.6" width="6.2" height="10.8" fill="#00f400"/>
<rect x="312.8" y="430" width="6.2" height="8.4" fill="#00f400"/>
<rect x="321.7" y="428.5" width="6.2" height="9.9" fill="#00f400"/>
<rect x="330.6" y="429.1" width="6.2" height="9.3" fill="#00f400"/>
<rect x="339.5" y="429.1" width="6.2" height="9.3" fill="#00f400"/>
<rect x="348.5" y="428.5" width="6.2" height="9.9" fill="#00f400"/>
<rect x="357.4" y="431.9" width="6.2" height="6.5" fill="#00f400"/>
<rect x="366.3" y="434.1" width="6.2" height="4.3" fill="#00f400"/>
<rect x="375.2" y="438" width="6.2" height="0.4" fill="#00f400"/>
<rect x="384.1" y="438.4" width="6.2" height="3.2" fill="#ff0000"/>
<rect x="393" y="438.4" width="6.2" height="7.9" fill="#ff0000"/>
<rect x="401.9" y="438.4" width="6.2" height="4.7" fill="#ff0000"/>
<rect x="410.8" y="438.4" width="6.2" height="4.4" fill="#ff0000"/>
<rect x="419.7" y="438.4" width="6.2" height="3.8" fill="#ff0000"/>
<rect x="428.6" y="438.4" width="6.2" height="3.8" fill="#ff0000"/>
<rect x="437.5" y="438.4" width="6.2" height="4.2" fill="#ff0000"/>
<rect x="446.5" y="438.4" width="6.2" height="2.5" fill="#ff0000"/>
<rect x="455.4" y="435.6" width="6.2" height="2.8" fill="#00f400"/>
<rect x="464.3" y="433.4" width="6.2" height="5" fill="#00f400"/>
<rect x="473.2" y="425.9" width="6.2" height="12.5" fill="#00f400"/>
<rect x="482.1" y="422.5" width="6.2" height="15.9" fill="#00f400"/>
<rect x="491" y="417.4" width="6.2" height="21" fill="#00f400"/>
<rect x="499.9" y="415.9" width="6.2" height="22.5" fill="#00f400"/>
<rect x="508.8" y="421.9" width="6.2" height="16.5" fill="#00f400"/>
<rect x="517.7" y="429.6" width="6.2" height="8.8" fill="#00f400"/>
<rect x="526.6" y="435.1" width="6.2" height="3.3" fill="#00f400"/>
<rect x="535.5" y="438.4" width="6.2" height="2.5" fill="#ff0000"/>
<rect x="544.4" y="438.4" width="6.2" height="12.2" fill="#ff0000"/>
<rect x="553.4" y="438.4" width="6.2" height="14.1" fill="#ff0000"/>
<rect x="562.3" y="438.4" width="6.2" height="11.7" fill="#ff0000"/>
<rect x="571.2" y="438.4" width="6.2" height="7.9" fill="#ff0000"/>
<rect x="580.1" y="438.4" width="6.2" height="4.2" fill="#ff0000"/>
<rect x="589" y="438.4" width="6.2" height="1.9" fill="#ff0000"/>
<rect x="597.9" y="438.4" width="6.2" height="0.6" fill="#ff0000"/>
<rect x="606.8" y="438.4" width="6.2" height="3.4" fill="#ff0000"/>
<rect x="615.7" y="438.4" width="6.2" height="2.5" fill="#ff0000"/>
<rect x="624.6" y="438.4" width="6.2" height="6.2" fill="#ff0000"/>
<rect x="633.5" y="438.4" width="6.2" height="9" fill="#ff0000"/>
<rect x="642.4" y="438.4" width="6.2" height="7.5" fill="#ff0000"/>
<rect x="651.4" y="438.4" width="6.2" height="7.2" fill="#ff0000"/>
<rect x="660.3" y="438.4" width="6.2" height="10.4" fill="#ff0000"/>
<rect x="669.2" y="438.4" width="6.2" height="11.7" fill="#ff0000"/>
<rect x="678.1" y="438.4" width="6.2" height="16" fill="#ff0000"/>
<rect x="687" y="438.4" width="6.2" height="22.9" fill="#ff0000"/>
<rect x="695.9" y="438.4" width="6.2" height="22.9" fill="#ff0000"/>
<rect x="704.8" y="438.4" width="6.2" height="21.6" fill="#ff0000"/>
<rect x="713.7" y="438.4" width="6.2" height="16.2" fill="#ff0000"/>
<rect x="722.6" y="438.4" width="6.2" height="12.7" fill="#ff0000"/>
<rect x="731.5" y="438.4" width="6.2" height="7.5" fill="#ff0000"/>
<rect x="740.4" y="438.4" width="6.2" height="0.9" fill="#ff0000"/>
<rect x="749.4" y="438.4" width="6.2" height="4.7" fill="#ff0000"/>
<rect x="758.3" y="438.4" width="6.2" height="7" fill="#ff0000"/>
<rect x="767.2" y="438.4" width="6.2" height="6.2" fill="#ff0000"/>
<rect x="776.1" y="438.4" width="6.2" height="9.4" fill="#ff0000"/>
<rect x="785" y="438.4" width="6.2" height="13.2" fill="#ff0000"/>
<rect x="793.9" y="438.4" width="6.2" height="14.1" fill="#ff0000"/>
</g>
<g clip-path="url(#c3)">
<rect x="-2" y="472.8" width="799.2" height="35.8" fill="#00ff00" fill-opacity="0.55"/>
<rect x="-2" y="558.2" width="799.2" height="37.8" fill="#ff0000" fill-opacity="0.55"/>
<path d="M-9.3,508.4H797.2" fill="none" stroke="#1d5f1d" stroke-width="0.9"/>
<path d="M796.9000000000001,508.6V472.8" fill="none" stroke="#1f5a1f" stroke-width="0.9"/>
<path d="M-9.3,558.4H797.2" fill="none" stroke="#5f1d1d" stroke-width="0.9"/>
<path d="M796.9000000000001,558.2V596" fill="none" stroke="#5a1f1f" stroke-width="0.9"/>
<path d="M-1,519.1L0,519L4.1,518.4L13,527.3L21.9,524.3L30.8,529.5L39.7,530.1L48.6,531L57.6,530.8L66.5,522.8L75.4,533.1L84.3,535.7L93.2,539.1L102.1,542.8L111,543.8L119.9,532.1L128.8,531.4L137.7,538.3L146.6,527.8L155.6,532.5L164.5,531.9L173.4,533.1L182.3,543.2L191.2,544.3L200.1,537.2L209,529.3L217.9,529.7L226.8,527.8L235.7,519.8L244.6,515.3L253.6,510L262.5,515.4L271.4,514.7L280.3,517.5L289.2,514.5L298.1,515.3L307,514.9L315.9,517.5L324.8,509.3L333.7,510.4L342.6,509.1L351.6,505.9L360.5,516.6L369.4,515.8L378.3,525.4L387.2,525.4L396.1,534L405,519.2L413.9,522.6L422.8,522L431.7,522.8L440.6,523.5L449.6,518.1L458.5,509.3L467.4,510.4L476.3,501.4L485.2,501.4L494.1,497.3L503,497.1L511.9,514.3L520.8,522.4L529.7,520.9L538.6,525.9L547.5,537.2L556.5,530.3L565.4,523.7L574.3,521.3L583.2,518.8L592.1,518.1L601,518.3L609.9,525.6L618.8,520.7L627.7,530.3L636.6,530.6L645.5,524.8L654.5,525.4L663.4,533.3L672.3,532.5L681.2,540.4L690.1,547.5L699,540.6L707.9,540L716.8,532.9L725.7,533.1L734.6,529.1L743.5,523.7L752.5,538.5L761.4,538.7L770.3,534.9L779.2,541.5L788.1,544.7L797,542.8" fill="none" stroke="#4565f7" stroke-width="1.15" stroke-linejoin="round"/>
</g>
<line x1="-4.8" y1="596" x2="-4.8" y2="598" stroke="#8a8a8a" stroke-width="1"/>
<text transform="translate(-4.8,611) scale(0.985,1)" font-size="10.3" fill="#4f4f4f" stroke="#4f4f4f" stroke-width="0.3" text-anchor="middle">17</text>
<line x1="21.9" y1="596" x2="21.9" y2="598" stroke="#8a8a8a" stroke-width="1"/>
<text transform="translate(21.9,611) scale(0.985,1)" font-size="10.3" fill="#4f4f4f" stroke="#4f4f4f" stroke-width="0.3" text-anchor="middle">20</text>
<line x1="48.6" y1="596" x2="48.6" y2="598" stroke="#8a8a8a" stroke-width="1"/>
<text transform="translate(48.6,611) scale(0.985,1)" font-size="10.3" fill="#4f4f4f" stroke="#4f4f4f" stroke-width="0.3" text-anchor="middle">24</text>
<line x1="75.4" y1="596" x2="75.4" y2="598" stroke="#8a8a8a" stroke-width="1"/>
<text transform="translate(75.4,611) scale(0.985,1)" font-size="10.3" fill="#4f4f4f" stroke="#4f4f4f" stroke-width="0.3" text-anchor="middle">27</text>
<line x1="111" y1="596" x2="111" y2="598" stroke="#8a8a8a" stroke-width="1"/>
<text transform="translate(111,611) scale(0.985,1)" font-size="10.3" fill="#4f4f4f" stroke="#4f4f4f" stroke-width="0.3" text-anchor="middle">Aug</text>
<line x1="137.7" y1="596" x2="137.7" y2="598" stroke="#8a8a8a" stroke-width="1"/>
<text transform="translate(137.7,611) scale(0.985,1)" font-size="10.3" fill="#4f4f4f" stroke="#4f4f4f" stroke-width="0.3" text-anchor="middle">4</text>
<line x1="164.5" y1="596" x2="164.5" y2="598" stroke="#8a8a8a" stroke-width="1"/>
<text transform="translate(164.5,611) scale(0.985,1)" font-size="10.3" fill="#4f4f4f" stroke="#4f4f4f" stroke-width="0.3" text-anchor="middle">8</text>
<line x1="191.2" y1="596" x2="191.2" y2="598" stroke="#8a8a8a" stroke-width="1"/>
<text transform="translate(191.2,611) scale(0.985,1)" font-size="10.3" fill="#4f4f4f" stroke="#4f4f4f" stroke-width="0.3" text-anchor="middle">11</text>
<line x1="217.9" y1="596" x2="217.9" y2="598" stroke="#8a8a8a" stroke-width="1"/>
<text transform="translate(217.9,611) scale(0.985,1)" font-size="10.3" fill="#4f4f4f" stroke="#4f4f4f" stroke-width="0.3" text-anchor="middle">16</text>
<line x1="244.6" y1="596" x2="244.6" y2="598" stroke="#8a8a8a" stroke-width="1"/>
<text transform="translate(244.6,611) scale(0.985,1)" font-size="10.3" fill="#4f4f4f" stroke="#4f4f4f" stroke-width="0.3" text-anchor="middle">19</text>
<line x1="271.4" y1="596" x2="271.4" y2="598" stroke="#8a8a8a" stroke-width="1"/>
<text transform="translate(271.4,611) scale(0.985,1)" font-size="10.3" fill="#4f4f4f" stroke="#4f4f4f" stroke-width="0.3" text-anchor="middle">24</text>
<line x1="298.1" y1="596" x2="298.1" y2="598" stroke="#8a8a8a" stroke-width="1"/>
<text transform="translate(298.1,611) scale(0.985,1)" font-size="10.3" fill="#4f4f4f" stroke="#4f4f4f" stroke-width="0.3" text-anchor="middle">29</text>
<line x1="324.8" y1="596" x2="324.8" y2="598" stroke="#8a8a8a" stroke-width="1"/>
<text transform="translate(324.8,611) scale(0.985,1)" font-size="10.3" fill="#4f4f4f" stroke="#4f4f4f" stroke-width="0.3" text-anchor="middle">Sep</text>
<line x1="351.6" y1="596" x2="351.6" y2="598" stroke="#8a8a8a" stroke-width="1"/>
<text transform="translate(351.6,611) scale(0.985,1)" font-size="10.3" fill="#4f4f4f" stroke="#4f4f4f" stroke-width="0.3" text-anchor="middle">6</text>
<line x1="378.3" y1="596" x2="378.3" y2="598" stroke="#8a8a8a" stroke-width="1"/>
<text transform="translate(378.3,611) scale(0.985,1)" font-size="10.3" fill="#4f4f4f" stroke="#4f4f4f" stroke-width="0.3" text-anchor="middle">9</text>
<line x1="405" y1="596" x2="405" y2="598" stroke="#8a8a8a" stroke-width="1"/>
<text transform="translate(405,611) scale(0.985,1)" font-size="10.3" fill="#4f4f4f" stroke="#4f4f4f" stroke-width="0.3" text-anchor="middle">13</text>
<line x1="431.7" y1="596" x2="431.7" y2="598" stroke="#8a8a8a" stroke-width="1"/>
<text transform="translate(431.7,611) scale(0.985,1)" font-size="10.3" fill="#4f4f4f" stroke="#4f4f4f" stroke-width="0.3" text-anchor="middle">16</text>
<line x1="458.5" y1="596" x2="458.5" y2="598" stroke="#8a8a8a" stroke-width="1"/>
<text transform="translate(458.5,611) scale(0.985,1)" font-size="10.3" fill="#4f4f4f" stroke="#4f4f4f" stroke-width="0.3" text-anchor="middle">21</text>
<line x1="485.2" y1="596" x2="485.2" y2="598" stroke="#8a8a8a" stroke-width="1"/>
<text transform="translate(485.2,611) scale(0.985,1)" font-size="10.3" fill="#4f4f4f" stroke="#4f4f4f" stroke-width="0.3" text-anchor="middle">24</text>
<line x1="511.9" y1="596" x2="511.9" y2="598" stroke="#8a8a8a" stroke-width="1"/>
<text transform="translate(511.9,611) scale(0.985,1)" font-size="10.3" fill="#4f4f4f" stroke="#4f4f4f" stroke-width="0.3" text-anchor="middle">28</text>
<line x1="538.6" y1="596" x2="538.6" y2="598" stroke="#8a8a8a" stroke-width="1"/>
<text transform="translate(538.6,611) scale(0.985,1)" font-size="10.3" fill="#4f4f4f" stroke="#4f4f4f" stroke-width="0.3" text-anchor="middle">Oct</text>
<line x1="565.4" y1="596" x2="565.4" y2="598" stroke="#8a8a8a" stroke-width="1"/>
<text transform="translate(565.4,611) scale(0.985,1)" font-size="10.3" fill="#4f4f4f" stroke="#4f4f4f" stroke-width="0.3" text-anchor="middle">6</text>
<line x1="592.1" y1="596" x2="592.1" y2="598" stroke="#8a8a8a" stroke-width="1"/>
<text transform="translate(592.1,611) scale(0.985,1)" font-size="10.3" fill="#4f4f4f" stroke="#4f4f4f" stroke-width="0.3" text-anchor="middle">11</text>
<line x1="618.8" y1="596" x2="618.8" y2="598" stroke="#8a8a8a" stroke-width="1"/>
<text transform="translate(618.8,611) scale(0.985,1)" font-size="10.3" fill="#4f4f4f" stroke="#4f4f4f" stroke-width="0.3" text-anchor="middle">14</text>
<line x1="645.5" y1="596" x2="645.5" y2="598" stroke="#8a8a8a" stroke-width="1"/>
<text transform="translate(645.5,611) scale(0.985,1)" font-size="10.3" fill="#4f4f4f" stroke="#4f4f4f" stroke-width="0.3" text-anchor="middle">19</text>
<line x1="672.3" y1="596" x2="672.3" y2="598" stroke="#8a8a8a" stroke-width="1"/>
<text transform="translate(672.3,611) scale(0.985,1)" font-size="10.3" fill="#4f4f4f" stroke="#4f4f4f" stroke-width="0.3" text-anchor="middle">24</text>
<line x1="699" y1="596" x2="699" y2="598" stroke="#8a8a8a" stroke-width="1"/>
<text transform="translate(699,611) scale(0.985,1)" font-size="10.3" fill="#4f4f4f" stroke="#4f4f4f" stroke-width="0.3" text-anchor="middle">27</text>
<line x1="725.7" y1="596" x2="725.7" y2="598" stroke="#8a8a8a" stroke-width="1"/>
<text transform="translate(725.7,611) scale(0.985,1)" font-size="10.3" fill="#4f4f4f" stroke="#4f4f4f" stroke-width="0.3" text-anchor="middle">Nov</text>
<line x1="752.5" y1="596" x2="752.5" y2="598" stroke="#8a8a8a" stroke-width="1"/>
<text transform="translate(752.5,611) scale(0.985,1)" font-size="10.3" fill="#4f4f4f" stroke="#4f4f4f" stroke-width="0.3" text-anchor="middle">4</text>
<line x1="779.2" y1="596" x2="779.2" y2="598" stroke="#8a8a8a" stroke-width="1"/>
<text transform="translate(779.2,611) scale(0.985,1)" font-size="10.3" fill="#4f4f4f" stroke="#4f4f4f" stroke-width="0.3" text-anchor="middle">7</text>
<line x1="805.9" y1="596" x2="805.9" y2="598" stroke="#8a8a8a" stroke-width="1"/>
<text transform="translate(805.9,611) scale(0.985,1)" font-size="10.3" fill="#4f4f4f" stroke="#4f4f4f" stroke-width="0.3" text-anchor="middle">10</text>
<line x1="0" y1="627.5" x2="881" y2="627.5" stroke="#e6e7f0" stroke-width="1"/>
</svg>
</body></html>
